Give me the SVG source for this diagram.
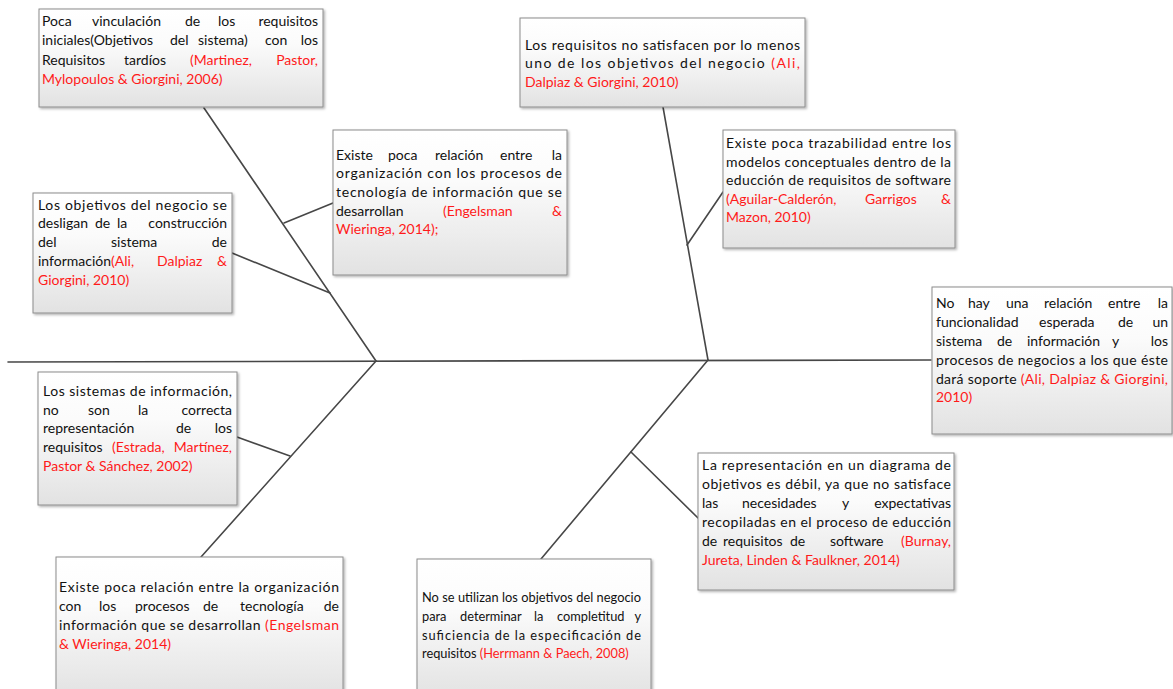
<svg xmlns="http://www.w3.org/2000/svg" width="1173" height="689" viewBox="0 0 1173 689">
<style>
.t{font-family:Lato,"Liberation Sans",sans-serif;font-size:14px;fill:#111}
.s{font-size:12.8px}
.r{fill:#ff1a1a}
.e{text-anchor:end}
.box{fill:url(#g);stroke:#8c8c8c;stroke-width:1;filter:url(#sh)}
.bone{stroke:#474747;stroke-width:1.6;fill:none;stroke-linecap:round}
</style>
<defs>
<linearGradient id="g" x1="0" y1="0" x2="0" y2="1">
<stop offset="0" stop-color="#ffffff"/>
<stop offset="0.35" stop-color="#fbfbfb"/>
<stop offset="1" stop-color="#e2e2e2"/>
</linearGradient>
<filter id="sh" x="-5%" y="-5%" width="115%" height="115%">
<feDropShadow dx="1.5" dy="1.5" stdDeviation="1" flood-color="#000" flood-opacity="0.3"/>
</filter>
</defs>
<rect width="1173" height="689" fill="#fff"/>

<g id="connectors">
<path class="bone" d="M8,362 L931,360"/>
<path class="bone" d="M204,108 L376,361"/>
<path class="bone" d="M376,361 L201,557"/>
<path class="bone" d="M284,223 L333,203"/>
<path class="bone" d="M232,253 L330,293"/>
<path class="bone" d="M237,437 L290,456"/>
<path class="bone" d="M663,107 L708,360"/>
<path class="bone" d="M708,360 L541,559"/>
<path class="bone" d="M687,245 L723,192"/>
<path class="bone" d="M631,452 L698,518"/>
</g>

<g id="n1">
<rect class="box" x="39" y="9" width="284" height="98"/>
<text class="t" y="26"><tspan x="42">Poca</tspan><tspan x="92">vinculación</tspan><tspan x="185">de</tspan><tspan x="218">los</tspan><tspan class="e" x="318">requisitos</tspan></text>
<text class="t" y="45"><tspan x="42">iniciales(Objetivos</tspan><tspan x="170">del</tspan><tspan x="198">sistema)</tspan><tspan x="265">con</tspan><tspan class="e" x="318">los</tspan></text>
<text class="t" y="64.5"><tspan x="42">Requisitos</tspan><tspan x="124">tardíos</tspan><tspan class="r" x="190">(Martinez,</tspan><tspan class="r e" x="318">Pastor,</tspan></text>
<text class="t r" x="42" y="83.5">Mylopoulos &amp; Giorgini, 2006)</text>
</g>

<g id="n2">
<rect class="box" x="333" y="130" width="234" height="145"/>
<text class="t" y="159.5"><tspan x="336">Existe</tspan><tspan x="388">poca</tspan><tspan x="435">relación</tspan><tspan x="500">entre</tspan><tspan class="e" x="562">la</tspan></text>
<text class="t" x="336" y="178" textLength="226" lengthAdjust="spacing">organización con los procesos de</text>
<text class="t" x="336" y="197" textLength="226" lengthAdjust="spacing">tecnología de información que se</text>
<text class="t" y="216"><tspan x="336">desarrollan</tspan><tspan class="r" x="443">(Engelsman</tspan><tspan class="r e" x="562">&amp;</tspan></text>
<text class="t r" x="336" y="234">Wieringa, 2014);</text>
</g>

<g id="n3">
<rect class="box" x="33" y="193" width="199" height="120"/>
<text class="t" x="38" y="209.5" textLength="189" lengthAdjust="spacing">Los objetivos del negocio se</text>
<text class="t" y="228"><tspan x="38">desligan</tspan><tspan x="95">de</tspan><tspan x="117">la</tspan><tspan class="e" x="227">construcción</tspan></text>
<text class="t" y="246.5"><tspan x="38">del</tspan><tspan x="111">sistema</tspan><tspan class="e" x="227">de</tspan></text>
<text class="t" y="266"><tspan x="38">información<tspan class="r">(Ali,</tspan></tspan><tspan class="r" x="157">Dalpiaz</tspan><tspan class="r e" x="227">&amp;</tspan></text>
<text class="t r" x="38" y="284.5">Giorgini, 2010)</text>
</g>

<g id="n4">
<rect class="box" x="520" y="18" width="285" height="89"/>
<text class="t" x="525" y="49.5" textLength="275" lengthAdjust="spacing">Los requisitos no satisfacen por lo menos</text>
<text class="t" x="525" y="68" textLength="275" lengthAdjust="spacing">uno de los objetivos del negocio <tspan class="r">(Ali,</tspan></text>
<text class="t r" x="525" y="86.5">Dalpiaz &amp; Giorgini, 2010)</text>
</g>

<g id="n5">
<rect class="box" x="723" y="130" width="232" height="118"/>
<text class="t" x="726" y="147.5" textLength="225" lengthAdjust="spacing">Existe poca trazabilidad entre los</text>
<text class="t" x="726" y="166.5" textLength="225" lengthAdjust="spacing">modelos conceptuales dentro de la</text>
<text class="t" x="726" y="185" textLength="225" lengthAdjust="spacing">educción de requisitos de software</text>
<text class="t r" y="203.5"><tspan x="726">(Aguilar-Calderón,</tspan><tspan x="865">Garrigos</tspan><tspan class="e" x="951">&amp;</tspan></text>
<text class="t r" x="726" y="222">Mazon, 2010)</text>
</g>

<g id="n6">
<rect class="box" x="932" y="287" width="240" height="147"/>
<text class="t" y="308"><tspan x="936">No</tspan><tspan x="968">hay</tspan><tspan x="1006">una</tspan><tspan x="1044">relación</tspan><tspan x="1108">entre</tspan><tspan class="e" x="1168">la</tspan></text>
<text class="t" y="327"><tspan x="936">funcionalidad</tspan><tspan x="1039">esperada</tspan><tspan x="1118">de</tspan><tspan class="e" x="1168">un</tspan></text>
<text class="t" y="346"><tspan x="936">sistema</tspan><tspan x="997">de</tspan><tspan x="1027">información</tspan><tspan x="1112">y</tspan><tspan class="e" x="1168">los</tspan></text>
<text class="t" x="936" y="365" textLength="232" lengthAdjust="spacing">procesos de negocios a los que éste</text>
<text class="t" x="936" y="383.5" textLength="232" lengthAdjust="spacing">dará soporte <tspan class="r">(Ali, Dalpiaz &amp; Giorgini,</tspan></text>
<text class="t r" x="936" y="402">2010)</text>
</g>

<g id="n7">
<rect class="box" x="38" y="372" width="199" height="133"/>
<text class="t" x="43" y="396" textLength="189" lengthAdjust="spacing">Los sistemas de información,</text>
<text class="t" y="414.5"><tspan x="43">no</tspan><tspan x="88">son</tspan><tspan x="138">la</tspan><tspan class="e" x="232">correcta</tspan></text>
<text class="t" y="433"><tspan x="43">representación</tspan><tspan x="176">de</tspan><tspan class="e" x="232">los</tspan></text>
<text class="t" y="452"><tspan x="43">requisitos</tspan><tspan class="r" x="112">(Estrada,</tspan><tspan class="r e" x="232">Martínez,</tspan></text>
<text class="t r" x="43" y="471">Pastor &amp; Sánchez, 2002)</text>
</g>

<g id="n8">
<rect class="box" x="698" y="453" width="256" height="137"/>
<text class="t" x="702" y="469.5" textLength="249" lengthAdjust="spacing">La representación en un diagrama de</text>
<text class="t" x="702" y="488.5" textLength="249" lengthAdjust="spacing">objetivos es débil, ya que no satisface</text>
<text class="t" y="507.5"><tspan x="702">las</tspan><tspan x="742">necesidades</tspan><tspan x="842">y</tspan><tspan class="e" x="951">expectativas</tspan></text>
<text class="t" x="702" y="526.5" textLength="249" lengthAdjust="spacing">recopiladas en el proceso de educción</text>
<text class="t" y="546"><tspan x="702">de</tspan><tspan x="723">requisitos</tspan><tspan x="790">de</tspan><tspan x="830">software</tspan><tspan class="r e" x="951">(Burnay,</tspan></text>
<text class="t r" x="702" y="564.5">Jureta, Linden &amp; Faulkner, 2014)</text>
</g>

<g id="n9">
<rect class="box" x="56" y="557" width="287" height="140"/>
<text class="t" x="59" y="591.5" textLength="280" lengthAdjust="spacing">Existe poca relación entre la organización</text>
<text class="t" y="610.5"><tspan x="59">con</tspan><tspan x="99">los</tspan><tspan x="135">procesos</tspan><tspan x="203">de</tspan><tspan x="240">tecnología</tspan><tspan class="e" x="339">de</tspan></text>
<text class="t" x="59" y="629.5" textLength="280" lengthAdjust="spacing">información que se desarrollan <tspan class="r">(Engelsman</tspan></text>
<text class="t r" x="59" y="648.5">&amp; Wieringa, 2014)</text>
</g>

<g id="n10">
<rect class="box" x="417" y="559" width="234" height="140"/>
<text class="t s" x="422" y="602" textLength="219" lengthAdjust="spacing">No se utilizan los objetivos del negocio</text>
<text class="t s" y="621"><tspan x="422">para</tspan><tspan x="460">determinar</tspan><tspan x="534">la</tspan><tspan x="557">completitud</tspan><tspan class="e" x="641">y</tspan></text>
<text class="t s" x="422" y="640" textLength="219" lengthAdjust="spacing">suficiencia de la especificación de</text>
<text class="t s" x="422" y="658">requisitos <tspan class="r">(Herrmann &amp; Paech, 2008)</tspan></text>
</g>
</svg>
